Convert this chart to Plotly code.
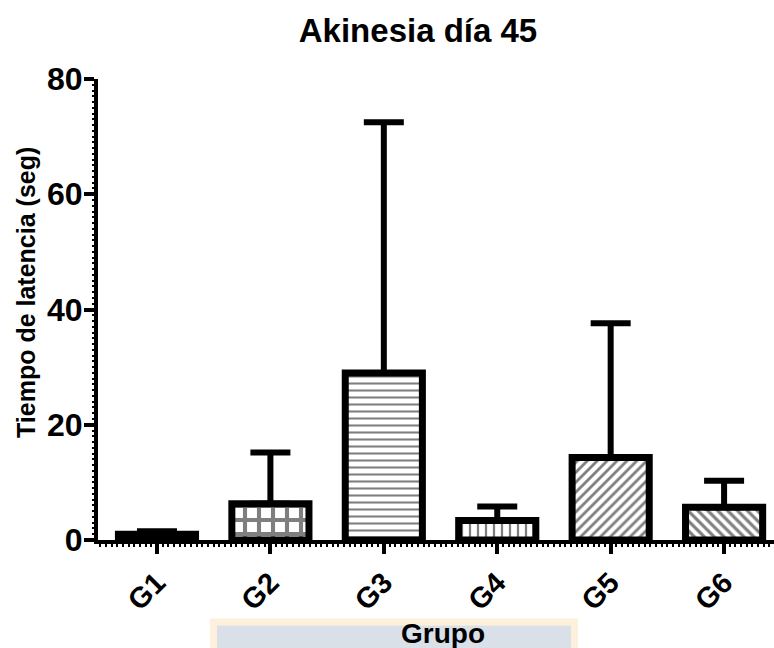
import plotly.graph_objects as go

# ---- data ----
groups = ["G1", "G2", "G3", "G4", "G5", "G6"]
means = [1.0, 6.3, 29.0, 3.4, 14.3, 5.7]
err_plus = [0.5, 8.9, 43.5, 2.4, 23.3, 4.6]
err_minus = [0, 0, 0, 0, 0, 0]
patterns = ["", "+", "-", "|", "/", "\\"]
y_ticks = [0, 20, 40, 60, 80]

title_text = "Akinesia día 45"
y_title = "Tiempo de latencia (seg)"
x_title = "Grupo"

FONT = "Liberation Sans"

W, H = 774, 648
L, R, T, B = 98, 0, 79, 108
PW, PH = W - L - R, H - T - B


def px_to_paper_x(px):
    return (px - L) / PW


def px_to_paper_y(py):
    return (H - B - py) / PH


xpos = list(range(len(groups)))

fig = go.Figure()
fig.add_trace(go.Bar(
    x=xpos,
    y=means,
    width=0.68,
    marker=dict(
        color="white",
        line=dict(color="black", width=7),
        pattern=dict(shape=patterns, fgcolor="black", bgcolor="white",
                     size=[8, 14, 7, 8, 7, 7],
                     solidity=[0.3, 0.5, 0.3, 0.28, 0.4, 0.45]),
    ),
    error_y=dict(type="data", symmetric=False, array=err_plus,
                 arrayminus=err_minus, color="black", thickness=6, width=20),
    showlegend=False,
))

fig.update_layout(
    width=W, height=H,
    margin=dict(l=L, r=R, t=T, b=B, autoexpand=False),
    paper_bgcolor="white", plot_bgcolor="white",
    title=dict(text=title_text, x=418 / W, xref="container", xanchor="center",
               y=1 - 30 / H, yref="container", yanchor="middle",
               font=dict(family=FONT, size=33, color="black", weight="bold")),
)

fig.update_xaxes(
    range=[-0.52, 5.44],
    tickvals=xpos, ticktext=groups,
    showline=True, linecolor="black", linewidth=4,
    ticks="outside", ticklen=10, tickwidth=4, tickcolor="black",
    tickangle=-45,
    tickfont=dict(family=FONT, size=29, color="black", weight="bold"),
    minor=dict(dtick=0.05, tick0=0, ticks="outside", ticklen=3, tickwidth=1.5,
               tickcolor="black"),
    showgrid=False, zeroline=False, automargin=False,
)
fig.update_yaxes(
    range=[0, 80],
    tickvals=y_ticks,
    showline=True, linecolor="black", linewidth=4,
    ticks="outside", ticklen=10, tickwidth=4, tickcolor="black",
    tickfont=dict(family=FONT, size=32, color="black", weight="bold"),
    ticklabelstandoff=-5,
    minor=dict(dtick=1, ticks="outside", ticklen=2, tickwidth=1.5, tickcolor="black"),
    showgrid=False, zeroline=False, automargin=False,
)

# y-axis title
fig.add_annotation(
    text=y_title, xref="paper", yref="paper",
    x=px_to_paper_x(26), y=px_to_paper_y(293),
    xanchor="center", yanchor="middle", textangle=-90, showarrow=False,
    font=dict(family=FONT, size=25, color="black", weight="bold"),
)

# x-axis title box
fig.add_shape(
    type="rect", xref="paper", yref="paper",
    x0=px_to_paper_x(213.5), x1=px_to_paper_x(574.5),
    y0=px_to_paper_y(622), y1=px_to_paper_y(670),
    line=dict(color="#fdf0dc", width=7), fillcolor="#dae0e8", layer="below",
)
fig.add_annotation(
    text=x_title, xref="paper", yref="paper",
    x=px_to_paper_x(443), y=px_to_paper_y(633),
    xanchor="center", yanchor="middle", showarrow=False,
    font=dict(family=FONT, size=28, color="black", weight="bold"),
)

fig.write_html("out.html",
               config={"displayModeBar": False},
               post_script="document.body.style.margin='0';document.body.style.padding='0';")
